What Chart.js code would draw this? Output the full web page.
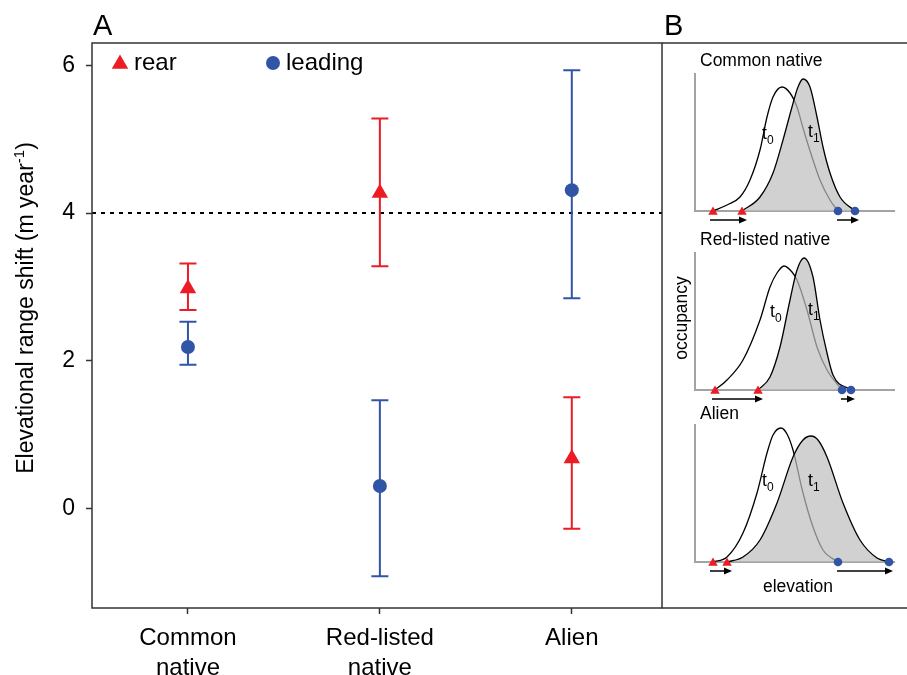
<!DOCTYPE html>
<html>
<head>
<meta charset="utf-8">
<script src="https://cdn.jsdelivr.net/npm/chart.js@4/dist/chart.umd.min.js"></script>
<style>
  html, body { margin: 0; padding: 0; background: #fff; overflow: hidden; }
  body { width: 907px; height: 675px; position: relative; font-family: "Liberation Sans", Arial, sans-serif; color: #000; }
  canvas { position: absolute; }
  .lbl { position: absolute; white-space: nowrap; line-height: 1; }
  .panel { font-size: 29px; }
  .small { font-size: 17.5px; }
  .small sub { font-size: 12px; vertical-align: -5px; line-height: 0; }
</style>
</head>
<body>
<canvas id="mainChart" width="907" height="675" style="left:0;top:0"></canvas>
<canvas id="bCommon" width="228" height="166" style="left:681px;top:59px"></canvas>
<canvas id="bRed" width="228" height="166" style="left:681px;top:238px"></canvas>
<canvas id="bAlien" width="228" height="166" style="left:681px;top:410px"></canvas>

<div class="lbl panel" style="left:93px;top:11px">A</div>
<div class="lbl panel" style="left:664px;top:11px">B</div>
<div class="lbl small" style="left:700px;top:52px">Common native</div>
<div class="lbl small" style="left:700px;top:231px">Red-listed native</div>
<div class="lbl small" style="left:700px;top:405px">Alien</div>
<div class="lbl small" style="left:682px;top:318px;transform:translate(-50%,-50%) rotate(-90deg)">occupancy</div>
<div class="lbl small" style="left:798px;top:578px;transform:translateX(-50%)">elevation</div>
<div class="lbl small" style="left:762px;top:125px">t<sub>0</sub></div>
<div class="lbl small" style="left:808px;top:123px">t<sub>1</sub></div>
<div class="lbl small" style="left:770px;top:303px">t<sub>0</sub></div>
<div class="lbl small" style="left:808px;top:301px">t<sub>1</sub></div>
<div class="lbl small" style="left:762px;top:472px">t<sub>0</sub></div>
<div class="lbl small" style="left:808px;top:472px">t<sub>1</sub></div>

<script>
// ----- Panel A data -----
const categories = [["Common", "native"], ["Red-listed", "native"], ["Alien"]];
const rearMean = [2.98, 4.27, 0.68];
const rearLow = [2.69, 3.28, -0.27];
const rearHigh = [3.32, 5.28, 1.51];
const leadMean = [2.19, 0.31, 4.31];
const leadLow = [1.95, -0.91, 2.85];
const leadHigh = [2.53, 1.47, 5.93];
const yTicks = [0, 2, 4, 6];
const refLine = 4;

// ----- Panel B data (schematic curves, [elevation, occupancy]) -----
const commonT0 = [[18,0],[32,6],[45,14],[55,31],[65,61],[72,94],[78,114],[87,124],[95,118],[102,104],[108,83],[117,54],[125,31],[135,11],[143,0]];
const commonT1 = [[47,0],[65,14],[78,38],[88,71],[97,104],[103,124],[108,132],[115,124],[122,94],[128,64],[135,38],[145,14],[160,0]];
const redT0 = [[20,0],[32,10],[48,30],[65,70],[75,103],[82,117],[89,124],[97,118],[102,110],[112,80],[122,43],[132,20],[147,0]];
const redT1 = [[63,0],[75,13],[85,43],[95,90],[102,120],[109,132],[118,113],[125,70],[132,37],[138,15],[156,0]];
const alienT0 = [[18,0],[32,5],[48,29],[62,69],[72,109],[78,127],[86,134],[92,128],[98,112],[108,69],[118,35],[128,12],[143,0]];
const alienT1 = [[32,0],[48,5],[65,22],[82,59],[98,105],[108,122],[116,126],[123,122],[132,105],[148,59],[165,22],[182,4],[194,0]];

const FAMILY = '"Liberation Sans", Arial, sans-serif';
const RED = "#ED1C24";
const BLUE = "#3155A6";

// ----- Helpers -----
function tri(ctx, x, y, r) {
  ctx.beginPath();
  ctx.moveTo(x, y - r);
  ctx.lineTo(x + r * Math.sin(Math.PI / 3), y + r / 2);
  ctx.lineTo(x - r * Math.sin(Math.PI / 3), y + r / 2);
  ctx.closePath();
  ctx.fill();
}
function dot(ctx, x, y, r) {
  ctx.beginPath();
  ctx.arc(x, y, r, 0, Math.PI * 2);
  ctx.fill();
}
function arrow(ctx, x0, x1, y) {
  ctx.beginPath();
  ctx.moveTo(x0, y);
  ctx.lineTo(x1 - 6, y);
  ctx.stroke();
  ctx.beginPath();
  ctx.moveTo(x1, y);
  ctx.lineTo(x1 - 8, y - 3.5);
  ctx.lineTo(x1 - 8, y + 3.5);
  ctx.closePath();
  ctx.fill();
}

// ----- Panel A plugins -----
const framePlugin = {
  id: "frame",
  afterDraw(chart) {
    const { ctx, chartArea: { left, right, top, bottom } } = chart;
    ctx.save();
    ctx.strokeStyle = "#333";
    ctx.lineWidth = 1.5;
    ctx.strokeRect(left, top, right - left, bottom - top);
    // panel B box (top and bottom lines run off the page edge)
    ctx.beginPath();
    ctx.moveTo(right, top); ctx.lineTo(chart.width, top);
    ctx.moveTo(right, bottom); ctx.lineTo(chart.width, bottom);
    ctx.stroke();
    ctx.restore();
  }
};

const errorBarPlugin = {
  id: "errorBars",
  beforeDatasetsDraw(chart) {
    const { ctx, chartArea, scales: { x, y } } = chart;
    // dotted reference line
    ctx.save();
    ctx.strokeStyle = "#000";
    ctx.lineWidth = 2;
    ctx.setLineDash([4, 5]);
    const ry = y.getPixelForValue(refLine);
    ctx.beginPath();
    ctx.moveTo(chartArea.left, ry);
    ctx.lineTo(chartArea.right, ry);
    ctx.stroke();
    ctx.restore();

    chart.data.datasets.forEach((ds) => {
      ctx.save();
      ctx.strokeStyle = ds.borderColor;
      ctx.lineWidth = 2;
      ds.data.forEach((p, i) => {
        const px = x.getPixelForValue(p.x);
        const lo = y.getPixelForValue(ds.low[i]);
        const hi = y.getPixelForValue(ds.high[i]);
        ctx.beginPath();
        ctx.moveTo(px, lo); ctx.lineTo(px, hi);
        ctx.moveTo(px - 8.5, lo); ctx.lineTo(px + 8.5, lo);
        ctx.moveTo(px - 8.5, hi); ctx.lineTo(px + 8.5, hi);
        ctx.stroke();
      });
      ctx.restore();
    });
  }
};

const legendPlugin = {
  id: "innerLegend",
  afterDraw(chart) {
    const { ctx, chartArea: { left, top } } = chart;
    const ly = top + 20;
    ctx.save();
    ctx.font = "24px " + FAMILY;
    ctx.textBaseline = "middle";
    ctx.fillStyle = RED;
    tri(ctx, left + 28, ly + 1, 9.5);
    ctx.fillStyle = BLUE;
    dot(ctx, left + 181, ly, 7);
    ctx.fillStyle = "#000";
    ctx.fillText(chart.data.datasets[0].label, left + 42, ly);
    ctx.fillText(chart.data.datasets[1].label, left + 194, ly);
    ctx.restore();
  }
};

const yTitlePlugin = {
  id: "yTitle",
  afterDraw(chart) {
    const ctx = chart.ctx;
    const main = "Elevational range shift (m year", sup = "-1", close = ")";
    ctx.save();
    ctx.fillStyle = "#000";
    ctx.textBaseline = "alphabetic";
    ctx.font = "23px " + FAMILY;
    const w1 = ctx.measureText(main).width, w3 = ctx.measureText(close).width;
    ctx.font = "15px " + FAMILY;
    const w2 = ctx.measureText(sup).width;
    const x0 = -(w1 + w2 + w3) / 2;
    ctx.translate(33, 308);
    ctx.rotate(-Math.PI / 2);
    ctx.font = "23px " + FAMILY;
    ctx.fillText(main, x0, 0);
    ctx.fillText(close, x0 + w1 + w2, 0);
    ctx.font = "15px " + FAMILY;
    ctx.fillText(sup, x0 + w1, -9);
    ctx.restore();
  }
};

// ----- Panel A chart -----
new Chart(document.getElementById("mainChart"), {
  type: "scatter",
  data: {
    datasets: [
      {
        label: "rear",
        data: rearMean.map((v, i) => ({ x: i + 1, y: v })),
        low: rearLow,
        high: rearHigh,
        pointStyle: "triangle",
        pointRadius: 9.5,
        pointHoverRadius: 9.5,
        backgroundColor: RED,
        borderColor: RED,
        borderWidth: 0
      },
      {
        label: "leading",
        data: leadMean.map((v, i) => ({ x: i + 1, y: v })),
        low: leadLow,
        high: leadHigh,
        pointStyle: "circle",
        pointRadius: 7,
        pointHoverRadius: 7,
        backgroundColor: BLUE,
        borderColor: BLUE,
        borderWidth: 0
      }
    ]
  },
  options: {
    responsive: false,
    animation: false,
    layout: { padding: { left: 0, top: 43, right: 245, bottom: 0 } },
    plugins: { legend: { display: false }, tooltip: { enabled: false } },
    scales: {
      x: {
        type: "linear",
        min: 0.5,
        max: 3.47,
        afterBuildTicks: (s) => { s.ticks = categories.map((c, i) => ({ value: i + 1 })); },
        afterFit: (s) => { s.height = 67; },
        ticks: { callback: (v) => categories[v - 1], font: { family: FAMILY, size: 24, lineHeight: 1.25 }, color: "#000", padding: 9, maxRotation: 0 },
        grid: { drawOnChartArea: false, drawTicks: true, tickLength: 6, tickColor: "#333", tickWidth: 1.5 },
        border: { display: false }
      },
      y: {
        type: "linear",
        min: -1.34,
        max: 6.3,
        afterBuildTicks: (s) => { s.ticks = yTicks.map((v) => ({ value: v })); },
        afterFit: (s) => { s.width = 92; },
        ticks: { font: { family: FAMILY, size: 23 }, color: "#000", padding: 11 },
        grid: { drawOnChartArea: false, drawTicks: true, tickLength: 6, tickColor: "#333", tickWidth: 1.5 },
        border: { display: false }
      }
    }
  },
  plugins: [errorBarPlugin, framePlugin, legendPlugin, yTitlePlugin]
});

// ----- Panel B schematics -----
const schematicPlugin = {
  id: "schematic",
  beforeDatasetsDraw(chart) {
    const { ctx, chartArea: { left, right, top, bottom } } = chart;
    ctx.save();
    ctx.strokeStyle = "#A3A3A3";
    ctx.lineWidth = 2;
    ctx.beginPath();
    ctx.moveTo(left, top); ctx.lineTo(left, bottom); ctx.lineTo(right, bottom);
    ctx.stroke();
    ctx.restore();
  },
  afterDatasetsDraw(chart) {
    const { ctx, chartArea: { bottom } } = chart;
    const p0 = chart.getDatasetMeta(0).data, p1 = chart.getDatasetMeta(1).data;
    const ay = bottom + 9;
    ctx.save();
    ctx.strokeStyle = "#000";
    ctx.fillStyle = "#000";
    ctx.lineWidth = 1.5;
    arrow(ctx, p0[0].x - 3, p1[0].x + 5, ay);
    arrow(ctx, p0[p0.length - 1].x - 1, p1[p1.length - 1].x + 4, ay);
    [p0, p1].forEach((pts) => {
      ctx.fillStyle = RED;
      tri(ctx, pts[0].x, pts[0].y + 1, 5.5);
      ctx.fillStyle = BLUE;
      dot(ctx, pts[pts.length - 1].x, pts[pts.length - 1].y, 4.3);
    });
    ctx.restore();
  }
};

function makeSchematic(id, t0, t1) {
  new Chart(document.getElementById(id), {
    type: "line",
    data: {
      datasets: [
        {
          label: "t0",
          data: t0.map(([x, y]) => ({ x, y })),
          borderColor: "#000",
          borderWidth: 1.3,
          fill: false,
          pointRadius: 0,
          cubicInterpolationMode: "monotone",
          clip: false,
          order: 2
        },
        {
          label: "t1",
          data: t1.map(([x, y]) => ({ x, y })),
          borderColor: "#000",
          borderWidth: 1.3,
          fill: "origin",
          backgroundColor: "rgba(190,190,190,0.7)",
          pointRadius: 0,
          cubicInterpolationMode: "monotone",
          clip: false,
          order: 1
        }
      ]
    },
    options: {
      responsive: false,
      animation: false,
      layout: { padding: 14 },
      plugins: { legend: { display: false }, tooltip: { enabled: false } },
      scales: {
        x: { type: "linear", min: 0, max: 200, display: false },
        y: { type: "linear", min: 0, max: 138, display: false }
      }
    },
    plugins: [schematicPlugin]
  });
}

makeSchematic("bCommon", commonT0, commonT1);
makeSchematic("bRed", redT0, redT1);
makeSchematic("bAlien", alienT0, alienT1);
</script>
</body>
</html>
